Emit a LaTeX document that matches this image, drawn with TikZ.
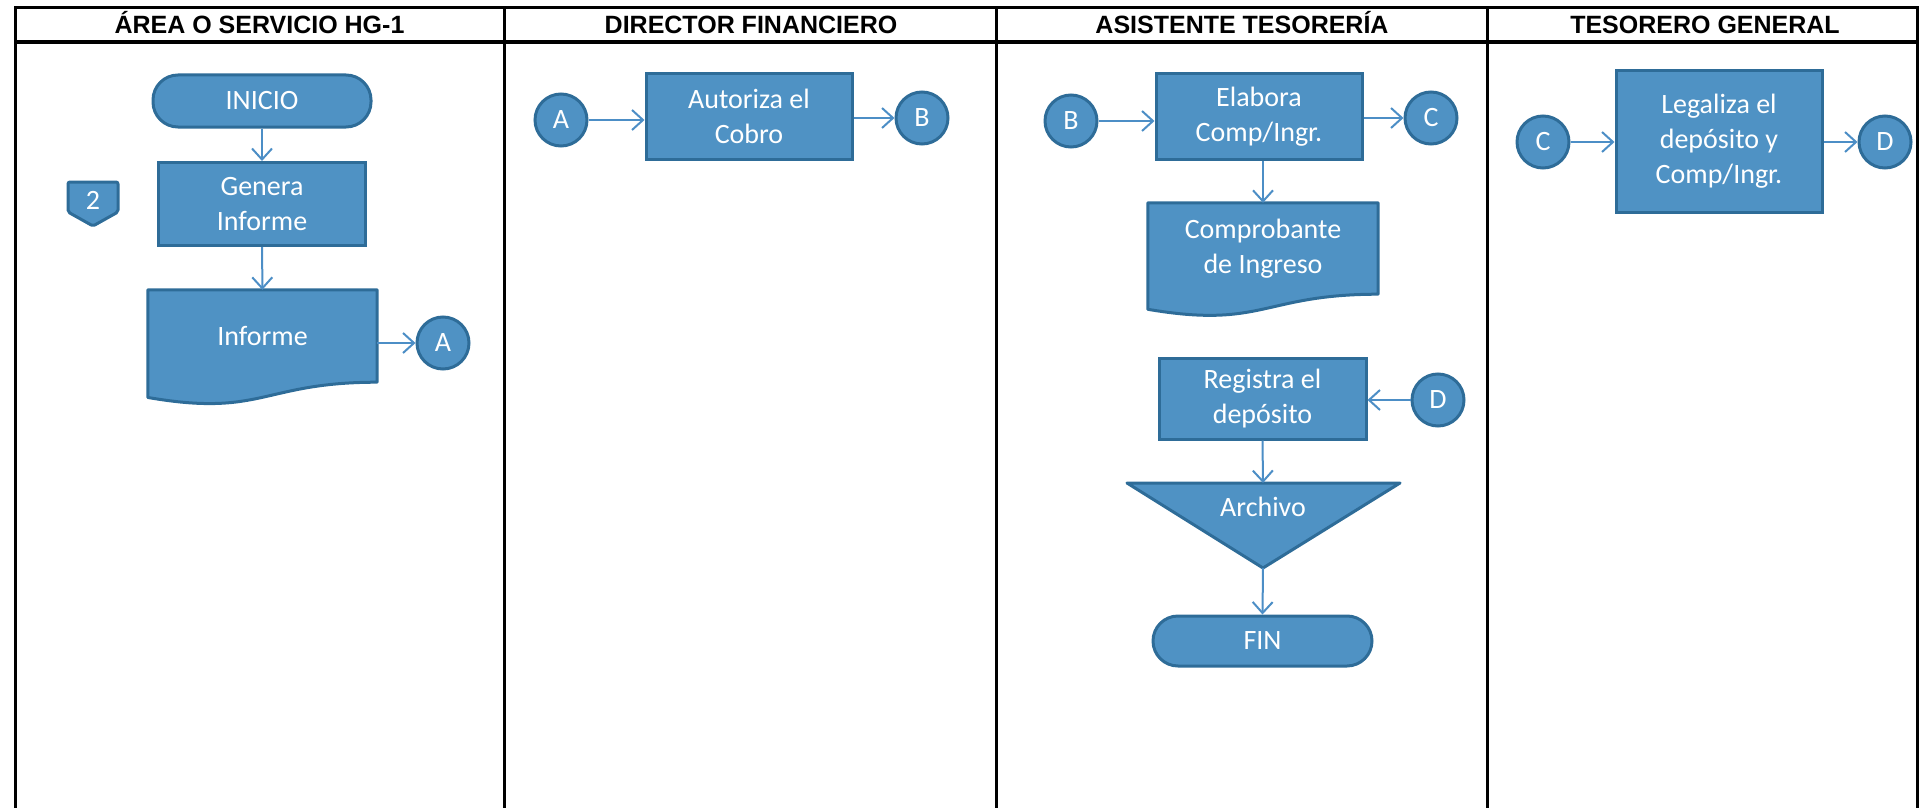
\documentclass[tikz,border=0pt]{standalone}
\usepackage{fontspec}
\setmainfont{Carlito}
\newfontfamily\hdrfont{Liberation Sans}
\usetikzlibrary{arrows.meta,calc,backgrounds}
\definecolor{boxfill}{RGB}{79,146,196}
\definecolor{boxline}{RGB}{46,108,152}
\definecolor{arrowc}{RGB}{76,142,198}
\tikzset{
  lane/.style={line width=3pt, draw=black, line join=miter},
  hdr/.style={font=\hdrfont\bfseries\fontsize{25}{30}\selectfont, text=black, inner sep=0pt, anchor=base},
  shapetext/.style={text=white, font=\fontsize{28}{35}\selectfont, align=center, inner sep=0pt},
  proc/.style={shapetext, rectangle, fill=boxfill, draw=boxline, line width=3pt},
  term/.style={proc, rounded corners=25pt},
  conn/.style={shapetext, circle, fill=boxfill, draw=boxline, line width=3pt, minimum size=52pt},
  shapefill/.style={fill=boxfill, draw=boxline, line width=3pt, line join=round},
  arr/.style={draw=arrowc, line width=2pt, -{Straight Barb[length=11pt,width=20pt,line width=2pt]}},
}
\newcommand\docpath[1]{%
  \path[shapefill] (#1.north west) -- (#1.north east) -- (#1.south east)
    .. controls (#1.south) and ($(#1.north)!1.381!(#1.south)$) ..
    ($(#1.north west)!1.165!(#1.south west)$) -- cycle;}
\begin{document}
\begin{tikzpicture}[x=1pt,y=-1pt]
\useasboundingbox (0,0) rectangle (1920,808);
% swimlanes
\draw[lane] (15,808) -- (15,8) -- (1917,8) -- (1917,808);
\draw[lane, line width=4pt] (15,42) -- (1917,42);
\foreach \xx in {504,996,1487} \draw[lane] (\xx,8) -- (\xx,808);
\node[hdr] (h1) at (259.5,33.5) {ÁREA O SERVICIO HG-1};
\node[hdr] (h2) at (751,33.5) {DIRECTOR FINANCIERO};
\node[hdr] (h3) at (1242,33.5) {ASISTENTE TESORERÍA};
\node[hdr] (h4) at (1705,33.5) {TESORERO GENERAL};

% lane 1
\node[term, minimum width=218pt, minimum height=52pt] (ini) at (262,101) {INICIO};
\node[proc, minimum width=207pt, minimum height=83pt] (gen) at (262,204) {Genera\\Informe};
\node[shapetext, minimum width=229pt, minimum height=92pt] (inf) at (262.5,336) {Informe};
\node[conn] (A1) at (443,343) {A};
\node[shapetext] (pg) at (93,200) {2};
\draw[arr] (ini) -- (gen);
\draw[arr] (gen) -- (inf);
\draw[arr] (inf.east |- A1) -- (A1);

% lane 2
\node[conn] (A2) at (561,120) {A};
\node[proc, minimum width=206pt, minimum height=85pt] (aut) at (749,116.5) {Autoriza el\\Cobro};
\node[conn] (B2) at (922,118) {B};
\draw[arr] (A2) -- (A2 -| aut.west);
\draw[arr] (aut.east |- B2) -- (B2);

% lane 3
\node[conn] (B3) at (1071,121) {B};
\node[proc, minimum width=206pt, minimum height=85pt] (ela) at (1259,116.5) {Elabora\\Comp/Ingr.};
\node[conn] (C3) at (1431,118) {C};
\node[shapetext, minimum width=230pt, minimum height=91pt] (comp) at (1263,248.5) {Comprobante\\de Ingreso};
\node[proc, minimum width=207pt, minimum height=81pt] (reg) at (1262.5,398.5) {Registra el\\depósito};
\node[conn] (D3) at (1438,400) {D};
\node[shapetext] (arch) at (1263,507) {Archivo};
\coordinate (archtop) at (1263,483);
\coordinate (archtip) at (1263,568);
\node[term, minimum width=219pt, minimum height=50pt] (fin) at (1262.5,641) {FIN};
\draw[arr] (B3) -- (B3 -| ela.west);
\draw[arr] (ela.east |- C3) -- (C3);
\draw[arr] (ela.south -| comp.north) -- (comp.north);
\draw[arr] (D3) -- (D3 -| reg.east);
\draw[arr] (reg.south) -- (archtop);
\draw[arr] (archtip) -- (fin.north);

% lane 4
\node[conn] (C4) at (1543,142) {C};
\node[proc, minimum width=206pt, minimum height=141pt] (leg) at (1719,141.5) {Legaliza el\\depósito y\\Comp/Ingr.};
\node[conn] (D4) at (1885,142) {D};
\draw[arr] (C4) -- (C4 -| leg.west);
\draw[arr] (leg.east |- D4) -- (D4);

\begin{pgfonlayer}{background}
  \docpath{inf}
  \docpath{comp}
  \path[shapefill] (1127,483) -- (1400,483) -- (archtip) -- cycle;
  \path[shapefill, rounded corners=2pt] ($(pg)+(-25,-18)$) -- ($(pg)+(25,-18)$) -- ($(pg)+(25,12)$) -- ($(pg)+(0,26)$) -- ($(pg)+(-25,12)$) -- cycle;
\end{pgfonlayer}
\end{tikzpicture}
\end{document}
